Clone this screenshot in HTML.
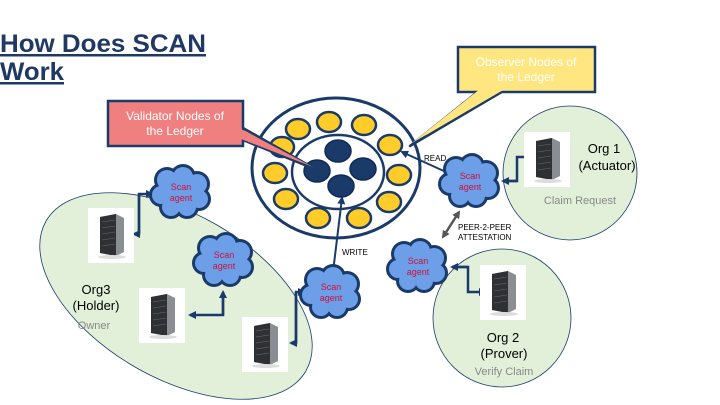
<!DOCTYPE html>
<html><head><meta charset="utf-8"><style>
html,body{margin:0;padding:0;background:#fff;width:720px;height:405px;overflow:hidden}
svg{display:block;font-family:"Liberation Sans",Arial,sans-serif}
</style></head><body>
<svg width="720" height="405" viewBox="0 0 720 405" xmlns="http://www.w3.org/2000/svg">
<defs>
<marker id="ah" markerWidth="8" markerHeight="8" refX="6" refY="4" orient="auto" markerUnits="userSpaceOnUse"><path d="M0,0 L8,4 L0,8 z" fill="#1a3a6a"/></marker>
<marker id="ag" markerWidth="8" markerHeight="8" refX="6" refY="4" orient="auto-start-reverse" markerUnits="userSpaceOnUse"><path d="M0,0 L8,4 L0,8 z" fill="#555"/></marker>
<g id="cloud">
<g fill="#1a3a6a"><circle cx="-14" cy="-12" r="13"/><circle cx="2" cy="-15" r="13"/><circle cx="16" cy="-8" r="13"/><circle cx="18" cy="7" r="12"/><circle cx="6" cy="15" r="12"/><circle cx="-10" cy="15" r="12"/><circle cx="-20" cy="3" r="12"/><circle cx="0" cy="0" r="18"/></g>
<g fill="#6d9ee8"><circle cx="-14" cy="-12" r="10"/><circle cx="2" cy="-15" r="10"/><circle cx="16" cy="-8" r="10"/><circle cx="18" cy="7" r="9"/><circle cx="6" cy="15" r="9"/><circle cx="-10" cy="15" r="9"/><circle cx="-20" cy="3" r="9"/><circle cx="0" cy="0" r="16"/></g>
<text x="0" y="-2" font-size="9" fill="#d0103a" text-anchor="middle">Scan</text>
<text x="0" y="9" font-size="9" fill="#d0103a" text-anchor="middle">agent</text>
</g>
<g id="srv">
<rect x="0" y="0" width="46" height="55" fill="#fff"/>
<polygon points="12,9 28,6 36,10 36,44 28,48 12,45" fill="#8a8d92"/>
<polygon points="12,9 28,6 28,48 12,45" fill="#2e3033"/>
<g stroke="#6a6d72" stroke-width="0.6"><line x1="14" y1="14" x2="27" y2="12"/><line x1="14" y1="20" x2="27" y2="18"/><line x1="14" y1="26" x2="27" y2="24"/><line x1="14" y1="32" x2="27" y2="30"/><line x1="14" y1="38" x2="27" y2="36"/></g>
<ellipse cx="24" cy="49" rx="14" ry="2" fill="#ddd"/>
</g>
</defs>

<!-- title -->
<text x="0" y="52" font-size="25" font-weight="bold" fill="#1f3864" text-decoration="underline" textLength="206" lengthAdjust="spacingAndGlyphs">How Does SCAN</text>
<text x="0" y="80" font-size="25" font-weight="bold" fill="#1f3864" text-decoration="underline" textLength="64" lengthAdjust="spacingAndGlyphs">Work</text>

<!-- green regions -->
<ellipse cx="176" cy="296" rx="150" ry="82" transform="rotate(30 176 296)" fill="#e2f0d9" stroke="#1a3a6a" stroke-width="0.8"/>
<circle cx="570" cy="173" r="67" fill="#e2f0d9" stroke="#1a3a6a" stroke-width="0.8"/>
<circle cx="502" cy="318" r="69" fill="#e2f0d9" stroke="#1a3a6a" stroke-width="0.8"/>

<!-- ledger -->
<ellipse cx="336" cy="168" rx="84" ry="70" fill="#fff" stroke="#1a3a6a" stroke-width="3"/>
<ellipse cx="338" cy="172" rx="46" ry="37" fill="#fff" stroke="#1a3a6a" stroke-width="2.5"/>
<g fill="#ffcc29" stroke="#1a3a6a" stroke-width="2.5">
<ellipse cx="298" cy="129" rx="12" ry="10"/><ellipse cx="329" cy="122" rx="12" ry="10"/><ellipse cx="364" cy="125" rx="12" ry="10"/><ellipse cx="390" cy="145" rx="12" ry="10"/><ellipse cx="399" cy="175" rx="12" ry="10"/><ellipse cx="389" cy="202" rx="12" ry="10"/><ellipse cx="359" cy="218" rx="12" ry="10"/><ellipse cx="318" cy="218" rx="12" ry="10"/><ellipse cx="286" cy="199" rx="12" ry="10"/><ellipse cx="275" cy="173" rx="12" ry="10"/><ellipse cx="282" cy="147" rx="12" ry="10"/>
</g>
<g fill="#1a3a6a" stroke="#0f2a55" stroke-width="1.5">
<ellipse cx="338" cy="151" rx="13" ry="11"/><ellipse cx="317" cy="171" rx="13" ry="11"/><ellipse cx="363" cy="169" rx="13" ry="11"/><ellipse cx="341" cy="186" rx="13" ry="11"/>
</g>

<!-- callouts -->
<polygon points="480,90 505,90 410,146" fill="#ffe680" stroke="#1a3a6a" stroke-width="2.5" stroke-linejoin="round"/>
<rect x="458" y="47" width="137" height="45" fill="#ffe680" stroke="#1a3a6a" stroke-width="2.5"/>
<polygon points="480,89 505,89 412,143" fill="#ffe680"/>
<text x="526" y="66" font-size="12" fill="#fff" text-anchor="middle">Observer Nodes of</text>
<text x="526" y="81" font-size="12" fill="#fff" text-anchor="middle">the Ledger</text>

<polygon points="243,128 243,140 317,170" fill="#f08080" stroke="#1a3a6a" stroke-width="2.5" stroke-linejoin="round"/>
<rect x="108" y="101" width="135" height="45" fill="#f08080" stroke="#1a3a6a" stroke-width="2.5"/>
<polygon points="241,129 241,139 313,167" fill="#f08080"/>
<text x="175" y="120" font-size="12" fill="#fff" text-anchor="middle">Validator Nodes of</text>
<text x="175" y="135" font-size="12" fill="#fff" text-anchor="middle">the Ledger</text>

<!-- connectors -->
<g fill="none" stroke="#1a3a6a" stroke-width="2.5">
<path d="M139,234 L139,194 L152,194" marker-end="url(#ah)"/>
<path d="M139,194 L139,234 L134,234" marker-end="url(#ah)"/>
<path d="M223,315 L223,292" marker-end="url(#ah)"/>
<path d="M223,292 L223,315 L190,315" marker-end="url(#ah)"/>
<path d="M296,343 L296,292 L304,292" marker-end="url(#ah)"/>
<path d="M296,292 L296,343 L291,343" marker-end="url(#ah)"/>
<path d="M517,181 L503,181" marker-end="url(#ah)"/>
<path d="M503,181 L517,181 L517,157 L531,157" marker-end="url(#ah)"/>
<path d="M468,267 L452,267" marker-end="url(#ah)"/>
<path d="M452,267 L468,267 L468,292 L485,292" marker-end="url(#ah)"/>
<path d="M333,272 L342,198" stroke-width="2" marker-end="url(#ah)"/>
<path d="M446,172 L402,152" stroke-width="2" marker-end="url(#ah)"/>
</g>
<line x1="459" y1="212" x2="443" y2="237" stroke="#555" stroke-width="2.5" marker-start="url(#ag)" marker-end="url(#ag)"/>

<text x="424" y="161" font-size="8" fill="#000">READ</text>
<text x="342" y="255" font-size="8" fill="#000">WRITE</text>
<text x="458" y="230" font-size="8" fill="#000">PEER-2-PEER</text>
<text x="458" y="240" font-size="8" fill="#000">ATTESTATION</text>

<!-- clouds -->
<use href="#cloud" x="181" y="192"/>
<use href="#cloud" x="224" y="260"/>
<use href="#cloud" x="331" y="292"/>
<use href="#cloud" x="470" y="181"/>
<use href="#cloud" x="418" y="266"/>

<!-- servers -->
<use href="#srv" x="88" y="208"/>
<use href="#srv" x="139" y="288"/>
<use href="#srv" x="242" y="317"/>
<use href="#srv" x="524" y="132"/>
<use href="#srv" x="480" y="265"/>

<!-- labels -->
<text x="604" y="153" font-size="13" fill="#000" text-anchor="middle">Org 1</text>
<text x="607" y="170" font-size="13" fill="#000" text-anchor="middle">(Actuator)</text>
<text x="580" y="204" font-size="11" fill="#888" text-anchor="middle">Claim Request</text>
<text x="96" y="294" font-size="13" fill="#000" text-anchor="middle">Org3</text>
<text x="96" y="310" font-size="13" fill="#000" text-anchor="middle">(Holder)</text>
<text x="94" y="329" font-size="11" fill="#888" text-anchor="middle">Owner</text>
<text x="503" y="342" font-size="13" fill="#000" text-anchor="middle">Org 2</text>
<text x="504" y="358" font-size="13" fill="#000" text-anchor="middle">(Prover)</text>
<text x="504" y="375" font-size="11" fill="#888" text-anchor="middle">Verify Claim</text>
</svg>
</body></html>
